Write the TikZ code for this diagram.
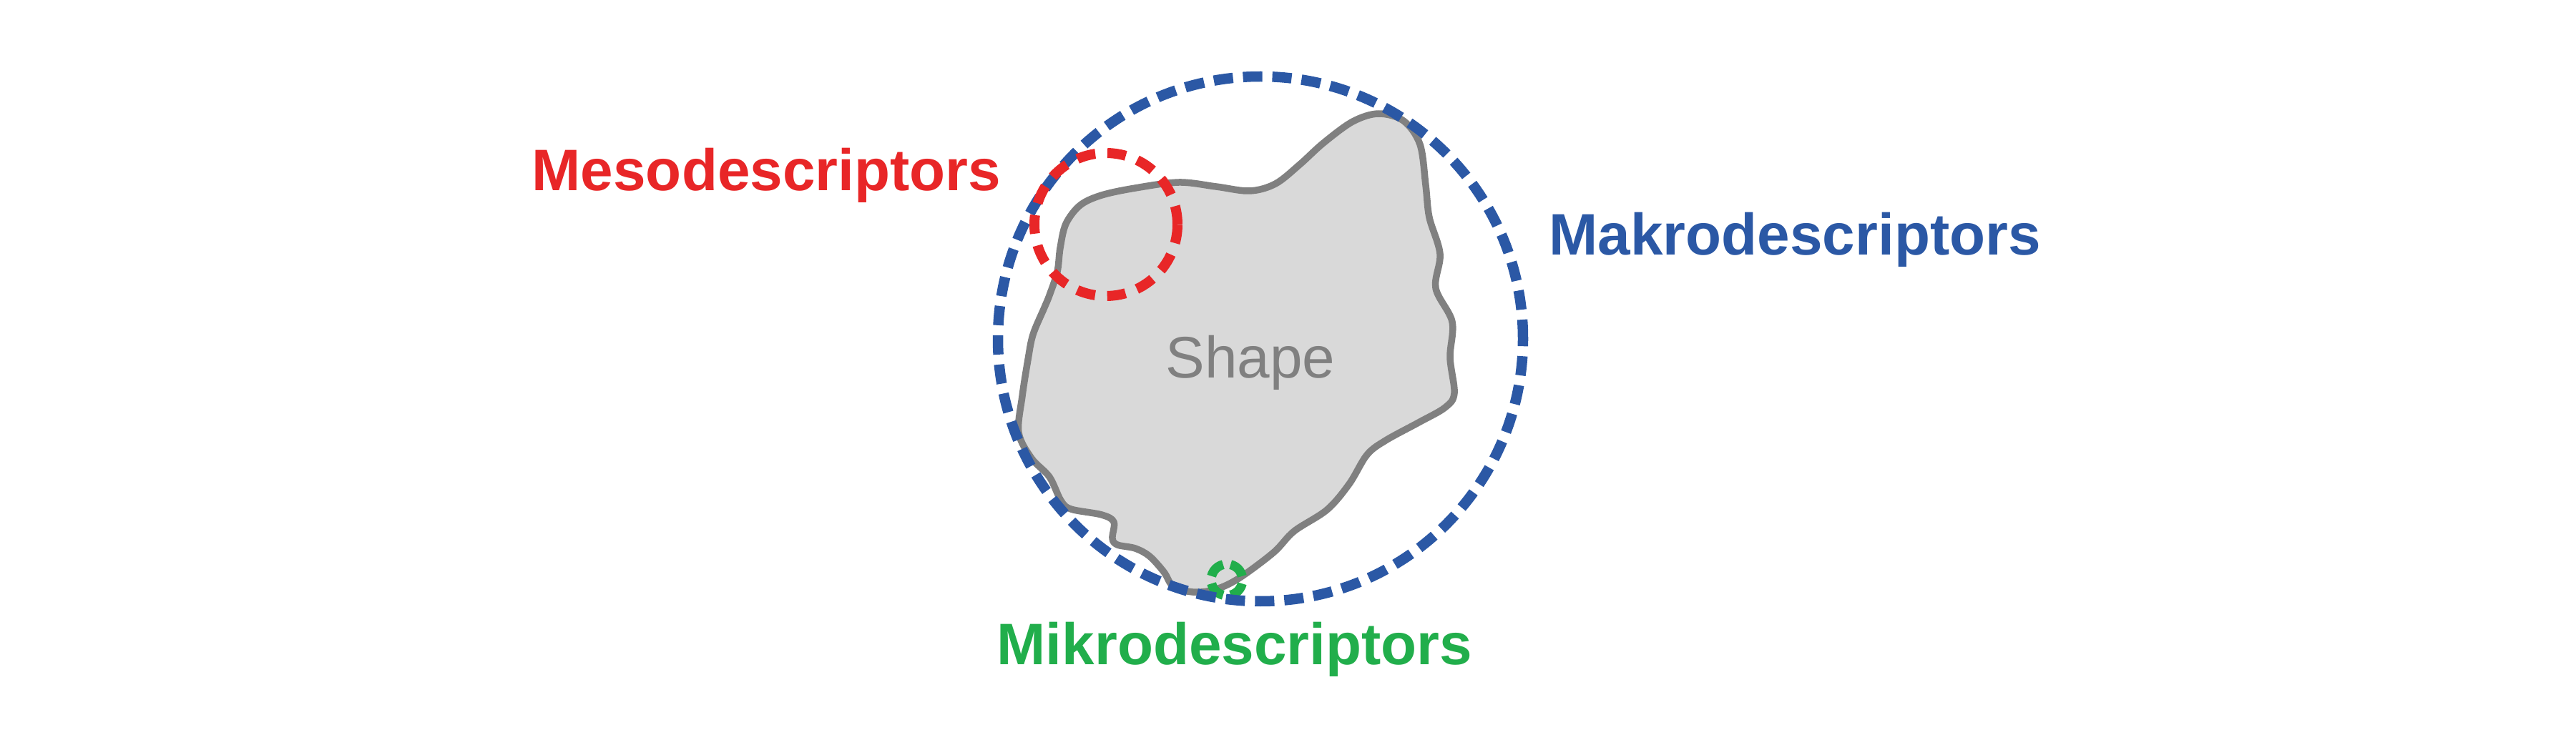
\documentclass[tikz,border=0pt]{standalone}
\usepackage{fontspec}
\setmainfont{Liberation Sans}
\usepackage{tikz}
\usetikzlibrary{positioning}

\definecolor{mesored}{RGB}{232,38,39}
\definecolor{makroblue}{RGB}{43,88,165}
\definecolor{mikrogreen}{RGB}{33,174,75}
\definecolor{shapefill}{RGB}{217,217,217}
\definecolor{shapeline}{RGB}{128,128,128}

\begin{document}
\begin{tikzpicture}[
  blob/.style={draw=shapeline, fill=shapefill, line width=0.095cm, line join=round},
  makro/.style={draw=makroblue, line width=0.145cm, dash pattern=on 0.27cm off 0.14cm},
  meso/.style={draw=mesored, line width=0.14cm, dash pattern=on 0.26cm off 0.17cm},
  mikro/.style={draw=mikrogreen, line width=0.13cm, dash pattern=on 0.24cm off 0.105cm, dash phase=0.2925cm},
  desc/.style={anchor=base west, inner sep=0pt, font=\fontsize{23.3}{28}\selectfont\bfseries},
  shapetext/.style={anchor=base, inner sep=0pt, text=shapeline, font=\fontsize{23.3}{28}\selectfont}
]
\useasboundingbox (0,0) rectangle (36.01,10.27);

% the shape
\draw[blob] plot[smooth cycle, tension=0.55] coordinates {
  (14.78,6.47) (14.82,6.80) (14.90,7.14) (15.10,7.40) (15.40,7.54) (15.87,7.64)
  (16.48,7.72) (17.00,7.66) (17.47,7.60) (17.83,7.70) (18.17,7.97) (18.50,8.27)
  (18.91,8.57) (19.27,8.68) (19.62,8.58) (19.85,8.25) (19.93,7.68) (19.98,7.23)
  (20.13,6.72) (20.07,6.24) (20.30,5.77) (20.27,5.27) (20.33,4.77) (20.20,4.57)
  (19.83,4.36) (19.37,4.11) (19.11,3.91) (18.86,3.50) (18.55,3.14) (18.09,2.84)
  (17.80,2.54) (17.30,2.17) (16.97,2.02) (16.67,1.99) (16.40,2.07) (16.27,2.27)
  (16.07,2.49) (15.87,2.60) (15.62,2.65) (15.55,2.74) (15.57,2.97) (15.40,3.07)
  (14.97,3.15) (14.83,3.27) (14.67,3.60) (14.42,3.86) (14.24,4.22) (14.29,4.73)
  (14.37,5.24) (14.44,5.59) (14.60,5.97) (14.67,6.14)};
\node[shapetext] (shape) at (17.48,4.98) {Shape};

% descriptor circles
\draw[mikro] (17.15,2.16) circle [radius=0.22cm];
\draw[makro] (17.62,5.53) circle [radius=3.67cm];
\draw[meso] (15.46,7.13) circle [radius=1.00cm];

% labels
\node[desc, text=mesored] (meso) at (7.43,7.60) {Mesodescriptors};
\node[desc, text=makroblue] (makro) at (21.65,6.70) {Makrodescriptors};
\node[desc, text=mikrogreen] (mikro) at (13.93,0.98) {Mikrodescriptors};
\end{tikzpicture}
\end{document}
